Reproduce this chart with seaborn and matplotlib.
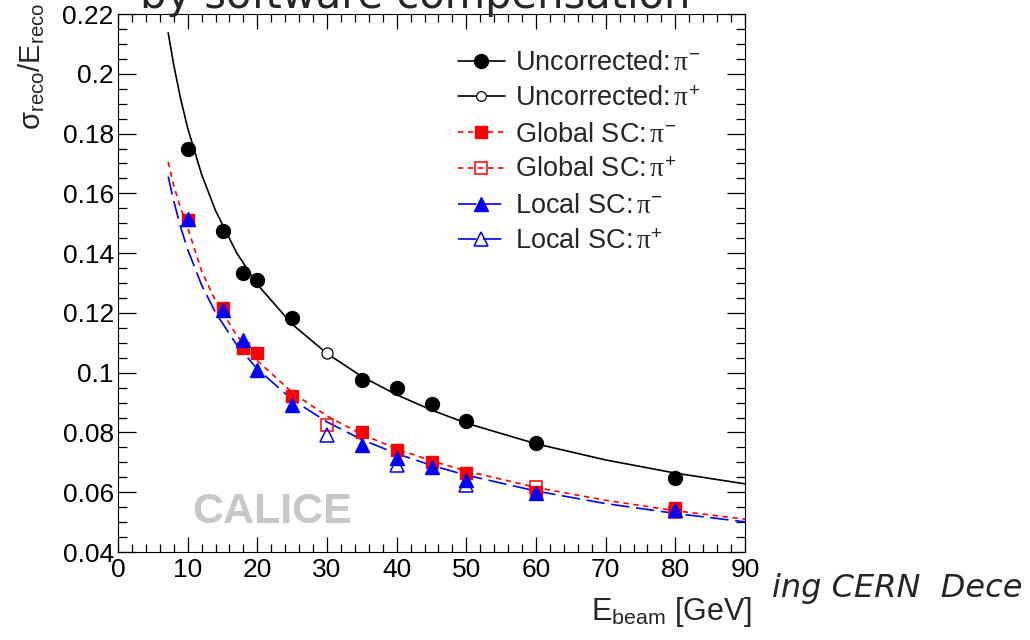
import seaborn as sns
import matplotlib.pyplot as plt
from matplotlib.lines import Line2D
from matplotlib.ticker import MultipleLocator

sns.set_style("ticks")
plt.rcParams['font.family'] = ['Liberation Sans', 'DejaVu Sans']
plt.rcParams['mathtext.fontset'] = 'custom'
plt.rcParams['mathtext.rm'] = 'Liberation Sans'
plt.rcParams['mathtext.it'] = 'Liberation Serif'
plt.rcParams['mathtext.bf'] = 'Liberation Sans:bold'

# Messpunkte
e_unc_neg = [10, 15, 18, 20, 25, 35, 40, 45, 50, 60, 80]
r_unc_neg = [0.1748, 0.1474, 0.1333, 0.1310, 0.1183, 0.0975, 0.0949, 0.0895, 0.0838, 0.0765, 0.0648]
e_unc_pos = [30]
r_unc_pos = [0.1066]
e_glob_neg = [10, 15, 18, 20, 25, 35, 40, 45, 50, 60, 80]
r_glob_neg = [0.1510, 0.1215, 0.1083, 0.1066, 0.0922, 0.0801, 0.0741, 0.0702, 0.0664, 0.0602, 0.0547]
e_glob_pos = [30, 60, 80]
r_glob_pos = [0.0825, 0.0618, 0.0535]
e_loc_neg = [10, 15, 18, 20, 25, 35, 40, 45, 50, 60, 80]
r_loc_neg = [0.1514, 0.1210, 0.1109, 0.1009, 0.0892, 0.0758, 0.0714, 0.0685, 0.0641, 0.0597, 0.0540]
e_loc_pos = [30, 40, 50]
r_loc_pos = [0.0791, 0.0691, 0.0624]

# Fit-Kurven
e_fit = [7.2, 8, 9, 10, 12, 14, 17, 20, 25, 30, 35, 40, 45, 50, 60, 70, 80, 90]
fit_unc = [0.2137, 0.2029, 0.1915, 0.1818, 0.1663, 0.1542, 0.1402, 0.1295, 0.1162, 0.1064,
           0.0987, 0.0926, 0.0875, 0.0831, 0.0762, 0.0708, 0.0664, 0.0628]
fit_glob = [0.1705, 0.1625, 0.1550, 0.1485, 0.1340, 0.1240, 0.1126, 0.1040, 0.0934, 0.0855,
            0.0794, 0.0745, 0.0705, 0.0671, 0.0616, 0.0573, 0.0538, 0.0510]
fit_loc = [0.1656, 0.1574, 0.1486, 0.1412, 0.1293, 0.1201, 0.1094, 0.1012, 0.0910, 0.0835,
           0.0776, 0.0729, 0.0690, 0.0657, 0.0604, 0.0562, 0.0529, 0.0501]

labels = [r'Uncorrected:$\,\pi^{-}$', r'Uncorrected:$\,\pi^{+}$',
          r'Global SC:$\,\pi^{-}$', r'Global SC:$\,\pi^{+}$',
          r'Local SC:$\,\pi^{-}$', r'Local SC:$\,\pi^{+}$']

red_ls = (0, (3.2, 2.8))
blue_ls = (0, (11, 4))

fig = plt.figure(figsize=(10.3, 6.4), dpi=100)
ax = fig.add_axes([0.1146, 0.1375, 0.6087, 0.8406])

sns.lineplot(x=e_fit, y=fit_unc, ax=ax, color='black', lw=1.2, zorder=2)
sns.lineplot(x=e_fit, y=fit_glob, ax=ax, color='red', lw=1.2, linestyle=red_ls, zorder=2)
sns.lineplot(x=e_fit, y=fit_loc, ax=ax, color='blue', lw=1.2, linestyle=blue_ls, zorder=2)

ax.plot(e_unc_neg, r_unc_neg, 'o', color='black', ms=10, zorder=3)
ax.plot(e_unc_pos, r_unc_pos, 'o', mfc='white', mec='black', mew=0.9, ms=8, zorder=3)
ax.plot(e_glob_neg, r_glob_neg, 's', color='red', ms=9, zorder=3)
ax.plot(e_glob_pos, r_glob_pos, 's', mfc='none', mec='red', mew=1.1, ms=9, zorder=3)
ax.plot(e_loc_neg, r_loc_neg, '^', color='blue', ms=10, zorder=4)
ax.plot(e_loc_pos, r_loc_pos, '^', mfc='none', mec='blue', mew=1.1, ms=10, zorder=4)

ax.set_xlim(0, 90)
ax.set_ylim(0.04, 0.22)
ax.xaxis.set_major_locator(MultipleLocator(10))
ax.xaxis.set_minor_locator(MultipleLocator(2))
ax.yaxis.set_major_locator(MultipleLocator(0.02))
ax.yaxis.set_minor_locator(MultipleLocator(0.005))
ax.set_yticks([0.04, 0.06, 0.08, 0.1, 0.12, 0.14, 0.16, 0.18, 0.2, 0.22])
ax.set_yticklabels(['0.04', '0.06', '0.08', '0.1', '0.12', '0.14', '0.16', '0.18', '0.2', '0.22'])
ax.tick_params(which='both', direction='in', top=True, right=True, width=0.9, colors='black')
ax.tick_params(axis='x', which='major', length=11, labelsize=19, pad=4)
ax.tick_params(axis='x', which='minor', length=5.5)
ax.tick_params(axis='y', which='major', length=13, labelsize=19, pad=3)
ax.tick_params(axis='y', which='minor', length=6.5)
for s in ax.spines.values():
    s.set_linewidth(0.8)
    s.set_color('black')

ax.set_xlabel(r'E$_{\rm beam}$ [GeV]', fontsize=22, loc='right')
ax.xaxis.set_label_coords(1.011, -0.08)
ax.set_ylabel(r'σ$_{\rm reco}$/E$_{\rm reco}$', fontsize=21, loc='top')
ax.yaxis.set_label_coords(-0.113, 1.02)

handles = [
    Line2D([], [], color='black', lw=1.2, marker='o', ms=10),
    Line2D([], [], color='black', lw=1.2, marker='o', ms=7, mfc='white', mew=0.9),
    Line2D([], [], color='red', lw=1.2, linestyle=red_ls, marker='s', ms=9),
    Line2D([], [], color='red', lw=1.2, linestyle=red_ls, marker='s', ms=9, mfc='none', mew=1.1),
    Line2D([], [], color='blue', lw=1.2, linestyle=blue_ls, marker='^', ms=10),
    Line2D([], [], color='blue', lw=1.2, linestyle=blue_ls, marker='^', ms=10, mfc='none', mew=1.1),
]
ax.legend(handles, labels, loc='upper left', bbox_to_anchor=(458 / 1030, 1 - 50 / 640),
          bbox_transform=fig.transFigure, frameon=False, fontsize=19.5,
          handlelength=1.73, handletextpad=0.37, labelspacing=0.36,
          borderpad=0, borderaxespad=0)

fig.text(192 / 1030, 1 - 523 / 640, 'CALICE', fontsize=31, fontweight='bold',
         color='#c8c8c8', va='baseline')
fig.text(140 / 1030, 1 - 8 / 640, 'by software compensation', fontsize=30,
         family='DejaVu Sans', va='baseline')
fig.text(772 / 1030, 1 - 588 / 640, 'ing CERN  Dece', fontsize=23,
         family='DejaVu Sans', style='italic', va='center')

fig.savefig('out.png', dpi=100)
